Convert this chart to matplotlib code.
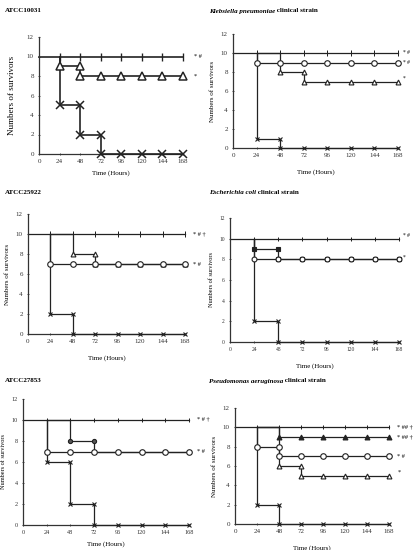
import matplotlib
matplotlib.use("Agg")
import matplotlib.pyplot as plt

plt.rcParams['font.family'] = ['Liberation Serif', 'DejaVu Serif']

# время наблюдения, ч
times = [24, 48, 72, 96, 120, 144, 168]
xticks = [0, 24, 48, 72, 96, 120, 144, 168]
yticks = [0, 2, 4, 6, 8, 10, 12]

# ATCC10031
p1_ctrl = [10, 10, 10, 10, 10, 10, 10]
p1_tri = [9, 8, 8, 8, 8, 8, 8]
p1_x = [5, 2, 0, 0, 0, 0, 0]

# Klebsiella pneumoniae
p2_ctrl = [10, 10, 10, 10, 10, 10, 10]
p2_circ = [9, 9, 9, 9, 9, 9, 9]
p2_tri = [10, 8, 7, 7, 7, 7, 7]
p2_x = [1, 0, 0, 0, 0, 0, 0]

# ATCC25922
p3_ctrl = [10, 10, 10, 10, 10, 10, 10]
p3_tri = [10, 8, 7, 7, 7, 7, 7]
p3_circ = [7, 7, 7, 7, 7, 7, 7]
p3_x = [2, 0, 0, 0, 0, 0, 0]

# Escherichia coli
p4_ctrl = [10, 10, 10, 10, 10, 10, 10]
p4_fill = [9, 8, 8, 8, 8, 8, 8]
p4_circ = [8, 8, 8, 8, 8, 8, 8]
p4_x = [2, 0, 0, 0, 0, 0, 0]

# ATCC27853
p5_ctrl = [10, 10, 10, 10, 10, 10, 10]
p5_fill = [10, 8, 7, 7, 7, 7, 7]
p5_circ = [7, 7, 7, 7, 7, 7, 7]
p5_x = [6, 2, 0, 0, 0, 0, 0]

# Pseudomonas aeruginosa
p6_ctrl = [10, 10, 10, 10, 10, 10, 10]
p6_fill = [10, 9, 9, 9, 9, 9, 9]
p6_circ = [8, 7, 7, 7, 7, 7, 7]
p6_tri = [10, 6, 5, 5, 5, 5, 5]
p6_x = [2, 0, 0, 0, 0, 0, 0]

W, H = 413, 550
fig = plt.figure(figsize=(W / 100, H / 100), dpi=100)

def make_ax(left, right, top, bottom):
    ax = fig.add_axes([left / W, 1 - bottom / H, (right - left) / W, (bottom - top) / H])
    ax.set_xlim(0, 168)
    ax.set_ylim(0, 12)
    ax.set_xticks(xticks)
    ax.set_yticks(yticks)
    for s in ['top', 'right']:
        ax.spines[s].set_visible(False)
    for s in ['left', 'bottom']:
        ax.spines[s].set_color('#333333')
        ax.spines[s].set_linewidth(0.9)
    ax.tick_params(length=1.5, width=0.6, direction='inout', labelsize=5, pad=3, colors='#333333')
    return ax

def survival(ax, vals, marker, ms, lw, fill='white', z=3):
    xs, ys = [24], [10]
    mx, my = [], []
    prev = None
    for t, v in zip(times, vals):
        if prev is not None and v != prev:
            xs += [t]
            ys += [prev]
            if prev != 10:
                mx.append(t); my.append(prev)
        xs.append(t); ys.append(v)
        if v != 10:
            mx.append(t); my.append(v)
        prev = v
    ax.plot(xs, ys, color='#222222', lw=lw, clip_on=False, zorder=z)
    ax.plot(mx, my, ls='none', marker=marker, ms=ms, mec='#222222',
            mfc=fill, mew=lw * 0.9, clip_on=False, zorder=z + 0.5)

def control(ax, vals, lw, ms):
    ax.plot([0] + times, [vals[0]] + vals, color='#222222', lw=lw, clip_on=False, zorder=2)
    ax.plot(times, vals, ls='none', marker='|', ms=ms, mec='#222222', mew=lw * 0.8,
            clip_on=False, zorder=2.5)

def tag(ax, y, s, dx=6, fs=4.5):
    ax.annotate(s, xy=(168, y), xytext=(dx, 0), textcoords='offset points',
                fontsize=fs, va='center', ha='left', annotation_clip=False)

def title(x, y, italic, rest=None):
    t = fig.text(x / W, 1 - y / H, italic, fontsize=5, weight='bold',
                 style='italic' if rest else 'normal', va='center')
    if rest:
        fig.axes[0].annotate(rest, xy=(1, 0.5), xycoords=t, va='center', ha='left',
                             fontsize=5, weight='bold', annotation_clip=False)

# панель 1
ax1 = make_ax(39, 183, 37, 154)
control(ax1, p1_ctrl, 1.2, 6)
survival(ax1, p1_tri, '^', 5.5, 1.2)
survival(ax1, p1_x, 'x', 5.5, 1.2)
tag(ax1, 10, '* #', 8)
tag(ax1, 8, '*', 8)
ax1.set_xlabel('Time (Hours)', fontsize=5)
ax1.set_ylabel('Numbers of survivors', fontsize=6.5, labelpad=8)

# панель 2
ax2 = make_ax(233, 398, 34, 148)
control(ax2, p2_ctrl, 0.9, 4)
survival(ax2, p2_circ, 'o', 4, 0.9)
survival(ax2, p2_tri, '^', 3.5, 0.9)
survival(ax2, p2_x, 'x', 3.5, 0.9)
tag(ax2, 10, '* #', 3.5, 4)
tag(ax2, 9, '* #', 3.5, 4)
tag(ax2, 7.3, '*', 3.5, 4)
ax2.set_xlabel('Time (Hours)', fontsize=5, labelpad=8)
ax2.set_ylabel('Numbers of survivors', fontsize=5)

# панель 3
ax3 = make_ax(28, 185, 214, 334)
control(ax3, p3_ctrl, 0.9, 4)
survival(ax3, p3_tri, '^', 3.5, 0.9)
survival(ax3, p3_circ, 'o', 4, 0.9, z=4)
survival(ax3, p3_x, 'x', 3.5, 0.9)
tag(ax3, 10, '* # †')
tag(ax3, 7, '* #')
ax3.set_xlabel('Time (Hours)', fontsize=5, labelpad=8)
ax3.set_ylabel('Numbers of survivors', fontsize=5)

# панель 4
ax4 = make_ax(230, 399, 218, 342)
ax4.tick_params(labelsize=4)
control(ax4, p4_ctrl, 0.9, 3)
survival(ax4, p4_fill, 's', 2.5, 0.9, '#222222')
survival(ax4, p4_circ, 'o', 3.5, 0.9, z=4)
survival(ax4, p4_x, 'x', 3, 0.9)
tag(ax4, 10.3, '* #', 3, 4)
tag(ax4, 8.2, '*', 3, 4)
ax4.set_xlabel('Time (Hours)', fontsize=5, labelpad=8)
ax4.set_ylabel('Numbers of survivors', fontsize=4.5)

# панель 5
ax5 = make_ax(23, 189, 399, 525)
ax5.tick_params(labelsize=4.5)
control(ax5, p5_ctrl, 0.9, 3.5)
survival(ax5, p5_fill, 'o', 3, 0.9, '#555555')
survival(ax5, p5_circ, 'o', 4, 0.9, z=4)
survival(ax5, p5_x, 'x', 3.5, 0.9)
tag(ax5, 10, '* # †')
tag(ax5, 7, '* #')
ax5.set_xlabel('Time (Hours)', fontsize=5)
ax5.set_ylabel('Numbers of survivors', fontsize=4.5)

# панель 6
ax6 = make_ax(235, 389, 408, 524)
control(ax6, p6_ctrl, 0.9, 3.5)
survival(ax6, p6_fill, '^', 3.5, 0.9, '#222222')
survival(ax6, p6_circ, 'o', 4, 0.9)
survival(ax6, p6_tri, '^', 3.5, 0.9)
survival(ax6, p6_x, 'x', 3.5, 0.9)
tag(ax6, 10, '* ## †')
tag(ax6, 8.9, '* ## †')
tag(ax6, 7, '* #')
tag(ax6, 5.4, '*')
ax6.set_xlabel('Time (Hours)', fontsize=5, labelpad=8)
ax6.set_ylabel('Numbers of survivors', fontsize=5)

title(5, 11, 'ATCC10031')
title(209, 11, 'Klebsiella pneumoniae', ' clinical strain')
title(5, 193, 'ATCC25922')
title(209, 193, 'Escherichia coli', ' clinical strain')
title(5, 381, 'ATCC27853')
title(209, 381, 'Pseudomonas aeruginosa', ' clinical strain')

fig.savefig('out.png', dpi=100)
